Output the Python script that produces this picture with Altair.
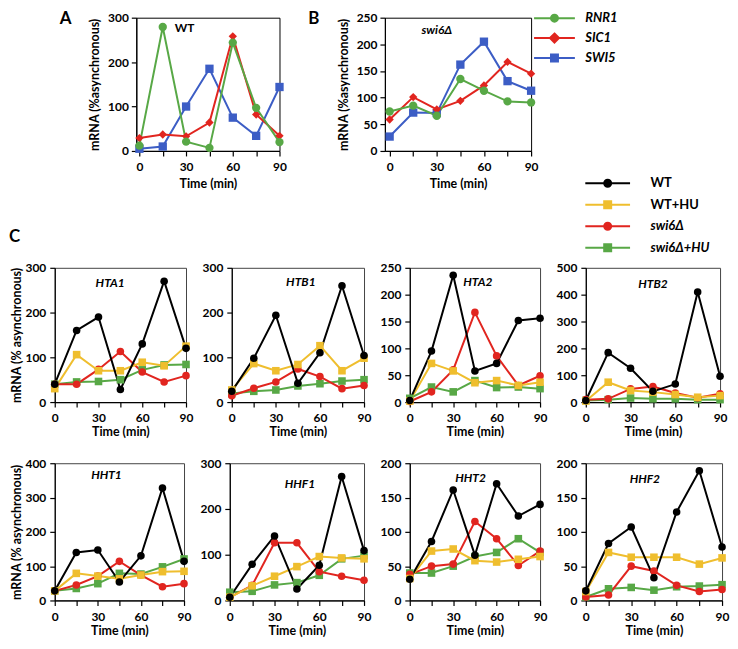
import altair as alt
import pandas as pd

FONT = "Lato"
times = [0, 15, 30, 45, 60, 75, 90]

GREEN = "#58A846"
RED = "#E1251F"
BLUE = "#3C5DC5"
GOLD = "#EFBE2E"
BLACK = "#000000"

# ---- Panels A / B ----
genes = ["RNR1", "SIC1", "SWI5"]
gene_colors = [GREEN, RED, BLUE]
gene_shapes = ["circle", "diamond", "square"]
gene_draw = ["SWI5", "SIC1", "RNR1"]

wt_rnr1 = [12, 279, 21, 7, 244, 97, 20]
wt_sic1 = [29, 37, 33, 64, 258, 82, 34]
wt_swi5 = [5, 10, 100, 185, 75, 34, 144]

swi6_rnr1 = [74, 85, 66, 135, 113, 93, 91]
swi6_sic1 = [59, 101, 78, 94, 123, 167, 145]
swi6_swi5 = [27, 72, 71, 162, 205, 131, 113]

# ---- Panel C ----
strains = ["WT", "WT+HU", "swi6Δ", "swi6Δ+HU"]
strain_colors = [BLACK, GOLD, RED, GREEN]
strain_shapes = ["circle", "square", "circle", "square"]
strain_draw = ["swi6Δ+HU", "swi6Δ", "WT+HU", "WT"]

hta1_wt = [40, 160, 190, 28, 130, 270, 120]
hta1_wthu = [30, 106, 70, 70, 89, 81, 125]
hta1_swi6 = [40, 40, 73, 113, 67, 45, 59]
hta1_swi6hu = [40, 45, 46, 50, 72, 83, 84]

htb1_wt = [24, 98, 194, 42, 110, 260, 104]
htb1_wthu = [27, 86, 70, 84, 126, 70, 98]
htb1_swi6 = [14, 31, 45, 74, 57, 30, 37]
htb1_swi6hu = [19, 24, 27, 36, 41, 47, 50]

hta2_wt = [3, 95, 236, 58, 72, 152, 156]
hta2_wthu = [2, 72, 58, 36, 40, 31, 37]
hta2_swi6 = [1, 19, 60, 167, 86, 31, 49]
hta2_swi6hu = [7, 28, 19, 40, 27, 28, 25]

htb2_wt = [6, 184, 126, 40, 67, 410, 96]
htb2_wthu = [4, 74, 43, 37, 28, 18, 24]
htb2_swi6 = [9, 12, 49, 58, 34, 16, 31]
htb2_swi6hu = [6, 9, 15, 12, 12, 9, 9]

hht1_wt = [28, 140, 147, 54, 130, 328, 114]
hht1_wthu = [28, 79, 71, 63, 74, 84, 85]
hht1_swi6 = [28, 45, 71, 114, 74, 40, 49]
hht1_swi6hu = [28, 35, 49, 79, 77, 98, 121]

hhf1_wt = [7, 79, 141, 25, 77, 271, 109]
hhf1_wthu = [7, 32, 53, 74, 96, 93, 91]
hhf1_swi6 = [7, 33, 126, 126, 63, 53, 44]
hhf1_swi6hu = [18, 20, 34, 39, 55, 91, 98]

hht2_wt = [31, 86, 161, 66, 170, 123, 140]
hht2_wthu = [32, 72, 75, 58, 56, 60, 64]
hht2_swi6 = [38, 50, 53, 115, 90, 51, 72]
hht2_swi6hu = [40, 40, 50, 64, 70, 90, 70]

hhf2_wt = [14, 83, 107, 33, 129, 189, 78]
hhf2_wthu = [13, 70, 63, 63, 63, 53, 62]
hhf2_swi6 = [5, 8, 50, 43, 22, 13, 16]
hhf2_swi6hu = [5, 17, 19, 15, 20, 21, 23]


def long_frame(series, draw):
    rows = []
    for k, name in enumerate(draw):
        for t, v in zip(times, series[name]):
            rows.append({"t": t, "v": v, "s": name, "k": k})
    return pd.DataFrame(rows)


X_LABELS = "datum.value % 30 == 0 ? datum.label : ''"


def legend_paths(half, r):
    circle = f"M{-half},0H{half}M{r},0A{r},{r},0,1,1,{-r},0A{r},{r},0,1,1,{r},0Z"
    square = f"M{-half},0H{half}M{-r},{-r}H{r}V{r}H{-r}Z"
    d = round(r * 1.3, 3)
    diamond = f"M{-half},0H{half}M0,{-d}L{d},0L0,{d}L{-d},0Z"
    return {"circle": circle, "square": square, "diamond": diamond}


def legend_layer(domain, colors, shapes, half, r, legend):
    p = legend_paths(half, r)
    paths = [p[s] for s in shapes]
    return alt.Chart(pd.DataFrame({"s": domain})).mark_point(
        filled=True, opacity=1, strokeWidth=2
    ).encode(
        fill=alt.Fill("s:N", scale=alt.Scale(domain=domain, range=colors), legend=legend),
        stroke=alt.Stroke("s:N", scale=alt.Scale(domain=domain, range=colors), legend=legend),
        shape=alt.Shape("s:N", scale=alt.Scale(domain=domain, range=paths), legend=legend),
    ).transform_filter("false")


def letter_mark(letter, px, py, baseline="top"):
    return alt.Chart(pd.DataFrame({"txt": [letter]})).mark_text(
        align="left", baseline=baseline, font=FONT, fontSize=17, fontWeight="bold",
        color="black",
    ).encode(x=alt.value(px), y=alt.value(py), text="txt:N")


def panel(series, domain, colors, shapes, draw, xdom, ymax, ystep, w, h,
          label, lab_t, lab_v, lab_italic=True, ytitle=None, box="#444",
          msize=58, ytpad=2, ylpad=4, xlpad=6, xtpad=2, legends=(), marks=()):
    df = long_frame(series, draw)
    xs = alt.Scale(domain=xdom, nice=False, zero=False)
    ys = alt.Scale(domain=[0, ymax], nice=False, zero=True)
    xax = alt.Axis(values=times, labelExpr=X_LABELS, title="Time (min)",
                   labelFlush=False, labelOverlap=False,
                   labelPadding=xlpad, titlePadding=xtpad)
    yax = alt.Axis(values=list(range(0, ymax + 1, ystep)), title=ytitle,
                   labelFlush=False, labelOverlap=False,
                   labelPadding=ylpad, titlePadding=ytpad)
    col = alt.Color("s:N", scale=alt.Scale(domain=domain, range=colors), legend=None)
    X = alt.X("t:Q", scale=xs, axis=xax)
    Y = alt.Y("v:Q", scale=ys, axis=yax)
    base = alt.Chart(df).encode(x=X, y=Y, color=col)
    lines = base.mark_line(strokeWidth=2).encode(order=alt.Order("t:Q"))
    pts = base.mark_point(filled=True, opacity=1, size=msize).encode(
        shape=alt.Shape("s:N", scale=alt.Scale(domain=domain, range=shapes), legend=None),
        order=alt.Order("k:Q"),
    )
    txt = alt.Chart(pd.DataFrame({"t": [lab_t], "v": [lab_v], "txt": [label]})).mark_text(
        font=FONT, fontSize=12, fontWeight="bold",
        fontStyle="italic" if lab_italic else "normal", color="black",
    ).encode(x=X, y=Y, text="txt:N")
    layers = [lines, pts, txt] + list(marks) + list(legends)
    ch = alt.layer(*layers)
    if legends:
        ch = ch.resolve_scale(shape="independent", fill="independent", stroke="independent")
    return ch.properties(width=w, height=h,
                         view=alt.ViewBackground(stroke=box, strokeWidth=1))


gene_legend = alt.Legend(orient="none", legendX=164, legendY=-6, title=None,
                         symbolSize=81, symbolStrokeWidth=2, symbolOpacity=1,
                         labelFont=FONT, labelFontSize=13, labelFontWeight="bold",
                         labelFontStyle="italic", labelColor="black",
                         labelOffset=24.5, rowPadding=2, padding=0)
strain_legend = alt.Legend(orient="none", legendX=15.5, legendY=-91.5, title=None,
                           symbolSize=81, symbolStrokeWidth=2, symbolOpacity=1,
                           labelFont=FONT, labelFontSize=13, labelFontWeight="bold",
                           labelFontStyle=alt.ExprRef("indexof(datum.label, 'swi6') >= 0 ? 'italic' : 'normal'"),
                           labelColor="black",
                           labelOffset=36.5, rowPadding=4.6, padding=0)

gleg = legend_layer(genes, gene_colors, gene_shapes, 4.56, 0.78, gene_legend)
sleg = legend_layer(strains, strain_colors, strain_shapes, 5.0, 0.78, strain_legend)

pA = panel({"RNR1": wt_rnr1, "SIC1": wt_sic1, "SWI5": wt_swi5},
           genes, gene_colors, gene_shapes, gene_draw, [-2, 90], 300, 100, 144, 134,
           "WT", 29, 276, lab_italic=False, ytitle="mRNA (%asynchronous)", box="black",
           msize=70, ytpad=6, ylpad=3, xlpad=6, xtpad=5)
pB = panel({"RNR1": swi6_rnr1, "SIC1": swi6_sic1, "SWI5": swi6_swi5},
           genes, gene_colors, gene_shapes, gene_draw, [-3, 90], 250, 50, 147, 134,
           "swi6Δ", 30, 226, ytitle="mRNA (%asynchronous)", box="black",
           msize=70, ytpad=6, ylpad=3, xlpad=6, xtpad=5, legends=(gleg,))


def spacer(letter, px):
    return letter_mark(letter, px, -7).properties(
        width=17, height=20, view=alt.ViewBackground(strokeOpacity=0))


def cpanel(wt, wthu, sw, swhu, ymax, ystep, w, h, label, lt, lv, ytitle=None,
           legends=(), marks=()):
    return panel({"WT": wt, "WT+HU": wthu, "swi6Δ": sw, "swi6Δ+HU": swhu},
                 strains, strain_colors, strain_shapes, strain_draw, [0, 90],
                 ymax, ystep, w, h, label, lt, lv, ytitle=ytitle,
                 legends=legends, marks=marks)


H1, H2 = 135, 138
c1 = [
    cpanel(hta1_wt, hta1_wthu, hta1_swi6, hta1_swi6hu, 300, 100, 132, H1, "HTA1", 38, 265,
           ytitle="mRNA (% asynchronous)",
           marks=(letter_mark("C", -46, -31, baseline="middle"),)),
    cpanel(htb1_wt, htb1_wthu, htb1_swi6, htb1_swi6hu, 300, 100, 133, H1, "HTB1", 47, 268),
    cpanel(hta2_wt, hta2_wthu, hta2_swi6, hta2_swi6hu, 250, 50, 131, H1, "HTA2", 47, 223),
    cpanel(htb2_wt, htb2_wthu, htb2_swi6, htb2_swi6hu, 500, 100, 135, H1, "HTB2", 45, 439,
           legends=(sleg,)),
]
c2 = [
    cpanel(hht1_wt, hht1_wthu, hht1_swi6, hht1_swi6hu, 400, 100, 130, H2, "HHT1", 36, 366,
           ytitle="mRNA (% asynchronous)"),
    cpanel(hhf1_wt, hhf1_wthu, hhf1_swi6, hhf1_swi6hu, 300, 100, 135, H2, "HHF1", 47, 254),
    cpanel(hht2_wt, hht2_wthu, hht2_swi6, hht2_swi6hu, 200, 50, 131, H2, "HHT2", 42, 179),
    cpanel(hhf2_wt, hhf2_wthu, hhf2_swi6, hhf2_swi6hu, 200, 50, 137, H2, "HHF2", 39, 177),
]

IND = dict(color="independent", shape="independent", fill="independent", stroke="independent")

rowAB = alt.hconcat(spacer("A", 5), pA, spacer("B", 5), pB, spacing=16).resolve_scale(**IND)
rowC1 = alt.hconcat(*c1, spacing=7).resolve_scale(**IND)
rowC2 = alt.hconcat(*c2, spacing=7).resolve_scale(**IND)
cblock = alt.vconcat(rowC1, rowC2, spacing=17.5).resolve_scale(**IND)

chart = alt.vconcat(rowAB, cblock, spacing=-14.5).resolve_scale(**IND).properties(
    padding=0
).configure(font=FONT).configure_axis(
    labelFont=FONT, labelFontSize=12, labelFontWeight="bold", labelColor="black",
    titleFont=FONT, titleFontSize=12.5, titleFontWeight="bold", titleColor="black",
    domainColor="black", domainWidth=1.2, tickColor="black", tickWidth=1.2,
    tickSize=5, grid=False,
)

chart.save("out.html", embed_options={"renderer": "svg", "actions": False})
